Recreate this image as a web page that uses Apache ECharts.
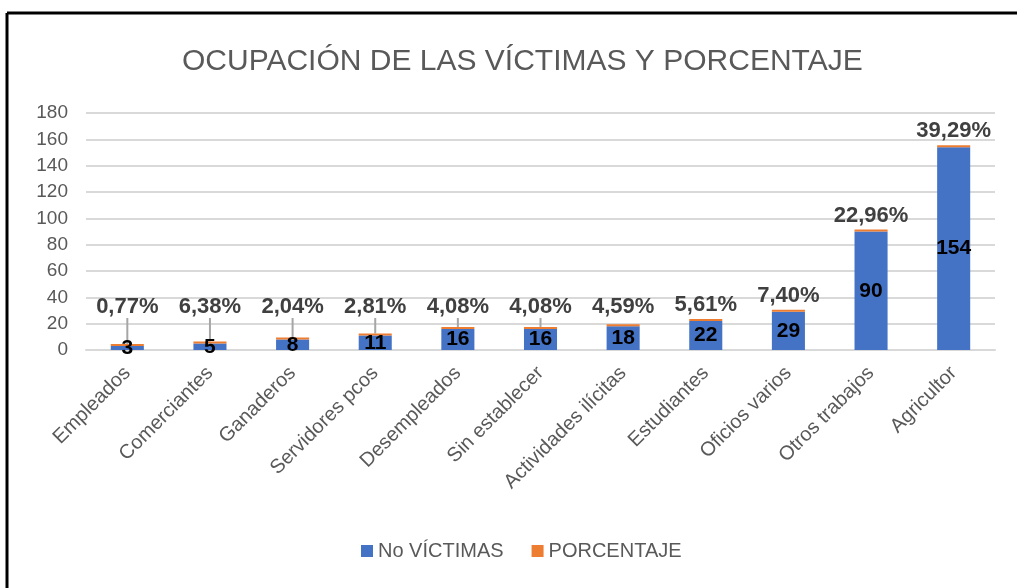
<!DOCTYPE html>
<html>
<head>
<meta charset="utf-8">
<script src="https://cdn.jsdelivr.net/npm/echarts@6/dist/echarts.min.js"></script>
<style>
  html, body { margin: 0; padding: 0; background: #fff; }
  #chart { width: 1017px; height: 588px; }
</style>
</head>
<body>
<div id="chart"></div>
<script>
// datos
const categorias = ['Empleados', 'Comerciantes', 'Ganaderos', 'Servidores pcos', 'Desempleados',
  'Sin establecer', 'Actividades ilícitas', 'Estudiantes', 'Oficios varios', 'Otros trabajos', 'Agricultor']
const victimas = [3, 5, 8, 11, 16, 16, 18, 22, 29, 90, 154]
// porcentaje guardado como fraccion (por eso casi no se ve la barra naranja)
const porcentaje = [0.0077, 0.0638, 0.0204, 0.0281, 0.0408, 0.0408, 0.0459, 0.0561, 0.0740, 0.2296, 0.3929]
const ticksY = [0, 20, 40, 60, 80, 100, 120, 140, 160, 180]

const FONT = '"Liberation Sans", Arial, sans-serif'
const chart = echarts.init(document.getElementById('chart'))

// linea guia solo en las barras bajas, como las etiquetas movidas en Excel
const datosPct = porcentaje.map((v, i) => ({
  value: v,
  labelLine: { show: victimas[i] < 17 }
}))

chart.setOption({
  animation: false,
  textStyle: { fontFamily: FONT },
  title: {
    text: 'OCUPACIÓN DE LAS VÍCTIMAS Y PORCENTAJE',
    left: 177,
    top: 42,
    textStyle: { fontSize: 30, fontWeight: 'normal', color: '#595959', fontFamily: FONT }
  },
  legend: {
    bottom: 22,
    left: 356,
    itemWidth: 12,
    itemHeight: 12,
    itemGap: 28,
    icon: 'rect',
    textStyle: { fontSize: 20, color: '#595959', fontFamily: FONT }
  },
  grid: { left: 86, right: 22, top: 113, bottom: 238 },
  xAxis: {
    type: 'category',
    data: categorias,
    axisTick: { show: false },
    axisLine: { lineStyle: { color: '#d9d9d9', width: 2 } },
    axisLabel: { rotate: 45, fontSize: 20, color: '#595959', margin: 20, interval: 0 }
  },
  yAxis: {
    type: 'value',
    min: ticksY[0],
    max: ticksY[ticksY.length - 1],
    interval: 20,
    axisLine: { show: false },
    axisTick: { show: false },
    axisLabel: { fontSize: 19, color: '#595959', margin: 18 },
    splitLine: { lineStyle: { color: '#d9d9d9', width: 2 } }
  },
  series: [
    {
      name: 'No VÍCTIMAS',
      type: 'bar',
      stack: 'a',
      barWidth: '40%',
      data: victimas,
      itemStyle: { color: '#4472C4' },
      label: {
        show: true,
        position: 'inside',
        color: '#000',
        fontWeight: 'bold',
        fontSize: 21
      }
    },
    {
      name: 'PORCENTAJE',
      type: 'bar',
      stack: 'a',
      barWidth: '40%',
      barMinHeight: 2,
      data: datosPct,
      itemStyle: { color: '#ED7D31' },
      label: {
        show: true,
        position: 'top',
        color: '#404040',
        fontWeight: 'bold',
        fontSize: 22,
        formatter: p => (p.value * 100).toFixed(2).replace('.', ',') + '%'
      },
      labelLine: { lineStyle: { color: '#a6a6a6', width: 2 } },
      // las etiquetas de barras bajas quedan levantadas
      labelLayout: p => ({
        x: p.rect.x + p.rect.width / 2,
        y: Math.min(p.rect.y - 3, 318),
        align: 'center',
        verticalAlign: 'bottom'
      })
    }
  ],
  graphic: [
    { type: 'line', shape: { x1: 7, y1: 13, x2: 1017, y2: 13 }, style: { stroke: '#000', lineWidth: 3 } },
    { type: 'line', shape: { x1: 7, y1: 13, x2: 7, y2: 588 }, style: { stroke: '#000', lineWidth: 3 } }
  ]
})
</script>
</body>
</html>
